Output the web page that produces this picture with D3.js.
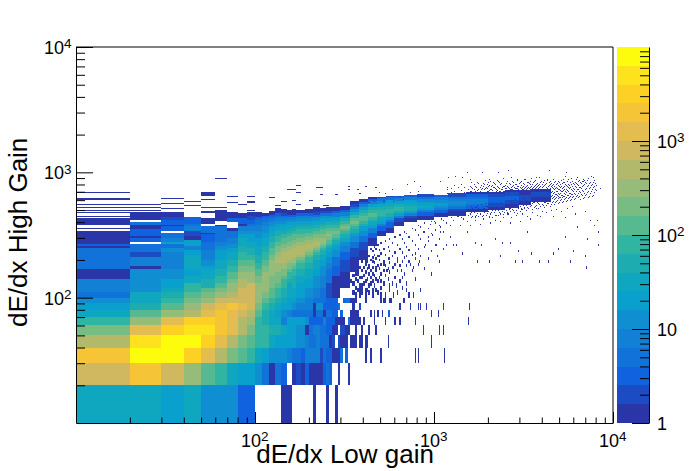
<!DOCTYPE html>
<html lang="en">
<head>
<meta charset="UTF-8">
<title>dE/dx High Gain vs Low gain</title>
<script src="https://cdn.jsdelivr.net/npm/d3@7"></script>
<style>
  html, body { margin: 0; background: #fff; }
  svg { display: block; font-family: "Liberation Sans", Arial, sans-serif; }
  .axis path, .axis line { stroke: #000; }
</style>
</head>
<body>
<div id="chart"></div>
<script>
// colour bands, bottom to top
const palette = ["#2a36a8","#1b4cc4","#1062df","#1172da","#1280d5","#0f8fd2","#09a0ce","#0fa6bf","#1dacb0","#30b5a2",
                 "#57b98f","#78bc84","#97bb78","#b3b96b","#cfb860","#e3bd4f","#f5c537","#fdd024","#fde31e","#fcfc0c"];

// bottom rows: [yLow, yHigh, x, count, x, count, ..., xEnd]
const lowRows = [
  [10,20, 10,32,30,20,40,32,50,13,80,3,100,0,140,1,160,0,210,1,220,0,250,1,260,0,280,1,290],
  [20,30, 10,800,20,2000,30,800,40,316,50,126,60,80,70,32,80,20,100,13,110,5,120,1,130,5,140,3,150,0,160,1,170,2,180,1,190,3,200,1,240,3,250,5,260,3,270,0,290,1,300,0,330,1,340],
  [30,40, 10,2000,20,8000,40,3200,50,1260,60,500,70,200,80,126,90,80,100,32,110,20,120,13,150,8,160,5,180,3,190,8,230,2,240,5,250,3,270,1,300,5,310,0,320,3,330,0,410,1,420,0,440,1,450,0,500,1,510,0,780,1,790,0,810,1,820,0,1140,1,1150],
  [40,50, 10,500,20,5000,30,8000,50,3200,60,1260,70,500,80,200,90,126,100,80,120,32,130,20,170,13,190,8,200,5,220,8,230,5,260,1,270,2,280,0,290,2,300,1,330,0,340,1,370,0,380,1,400,0,410,1,430,0,550,1,560,0,960,1,970],
  [50,60, 10,200,20,1260,30,3200,40,5000,60,2000,70,1260,80,500,90,200,100,80,120,50,140,32,150,20,170,13,190,1,200,5,210,8,230,5,250,3,270,1,290,0,300,2,320,1,340,0,360,1,370,0,390,1,400,0,430,1,440,0,470,1,480,0,870,1,880,0,1070,1,1080,0,1120,1,1130],
  [60,70, 10,80,20,316,30,1260,40,3200,60,2000,70,1260,80,500,90,316,100,80,110,50,120,32,140,8,150,20,190,13,200,3,240,8,250,3,280,1,320,0,330,5,340,1,390,0,400,1,410,0,460,1,470,0,530,1,540,0,600,1,610,0,640,1,650,0,780,1,790,0,1540,1,1550],
  [70,80, 10,32,20,126,30,316,40,500,50,1260,60,2000,70,1260,80,800,90,500,100,126,110,50,120,32,130,20,140,13,150,8,160,5,210,1,220,5,240,1,250,5,270,3,290,0,300,3,310,0,340,1,380,0,440,1,450,0,460,1,470,0,480,1,490,0,510,1,520,0,550,3,570,0,960,1,970,0,1050,1,1060],
  [80,90, 10,20,20,50,30,126,40,316,50,800,60,1260,70,2000,80,1260,90,800,100,200,110,80,120,50,130,32,140,20,160,13,170,8,210,1,220,13,240,3,290,5,300,0,350,1,360,0,380,2,390,0,640,1,650,0,730,1,740,0,810,1,820,0,830,1,840,0,900,1,910,0,1120,1,1130,0,1570,1,1580],
  [90,100, 10,13,20,32,30,80,40,200,50,316,60,800,100,316,110,126,120,80,130,50,140,32,150,20,170,13,190,8,210,5,250,3,280,3,290,0,310,3,320,5,340,1,370,0,410,1,420,0,500,1,510,0,520,1,540,0,560,1,580,0,670,1,690]
];

// everything above y = 100: [xLow, xHigh, y, count, y, count, ..., yEnd]
const ridgeCols = [
  [10,20, 100,5,110,8,140,1,170,5,250,1,260,3,270,1,300,1,340,0,350,1,360,0,380,1,430,0,440,1,450,0,470,1,480,0,490,1,500,0,520,1,530,0,550,1,560,0,600,1,620,0,690,1,700],
  [20,30, 100,32,110,13,170,1,180,8,210,2,230,5,270,0,280,3,300,1,310,3,350,1,380,5,400,0,420,1,480,0,490,1,500,0,520,1,530,0,550,1,560],
  [30,40, 100,50,110,32,120,20,140,13,170,8,230,13,250,5,270,20,280,8,300,5,330,0,340,3,370,1,380,3,420,2,440,1,480,0,510,1,520,0,560,1,570,0,610,1,620],
  [40,50, 100,126,110,80,130,32,150,20,170,32,220,20,240,8,260,20,290,1,310,2,340,8,370,5,390,3,440,0,540,1,550,0,580,1,590],
  [50,60, 100,200,110,126,120,50,140,32,170,20,180,13,200,8,240,5,280,3,320,1,330,5,370,0,390,1,410,1,430,0,470,1,490,0,520,1,530,0,600,1,610,0,650,1,700],
  [60,70, 100,316,110,200,120,126,130,80,150,50,170,32,200,20,240,13,260,8,280,5,320,5,370,1,380,0,410,1,440,1,500,0,520,1,530,0,890,1,900],
  [70,80, 100,500,110,316,130,200,140,126,160,80,180,50,200,32,230,20,250,13,270,8,300,5,340,1,360,0,400,3,430,1,480,0,570,1,580,0,640,1,650],
  [80,90, 100,800,120,500,140,316,160,200,180,126,200,80,230,50,260,32,300,20,320,13,340,8,370,1,390,3,430,1,470,0,550,1,560],
  [90,100, 100,800,130,316,160,200,180,126,200,80,220,50,250,32,280,20,320,13,340,8,370,5,390,3,420,2,450,1,480,0,490,1,500,0,570,1,580,0,640,1,650],
  [100,110, 100,316,130,200,150,126,170,80,190,50,220,32,260,20,300,13,340,8,380,5,420,3,440,1,480],
  [110,120, 100,200,110,316,160,200,180,126,200,80,230,50,260,32,300,20,330,13,370,8,400,5,430,3,450,1,470],
  [120,130, 100,126,120,200,150,316,200,200,220,126,250,80,280,50,310,32,340,20,370,13,400,8,420,5,440,3,460,1,490],
  [130,140, 100,80,120,126,130,200,160,316,190,500,210,316,230,200,260,126,280,80,310,50,340,32,360,20,390,13,410,8,430,5,450,3,470,1,520],
  [140,150, 100,50,120,80,140,126,150,200,170,316,190,500,230,316,250,200,270,126,300,80,320,50,340,32,370,20,390,13,410,8,430,5,450,2,470,1,510],
  [150,160, 100,32,130,50,140,80,160,126,170,200,190,316,200,500,240,316,260,200,280,126,310,80,330,50,350,32,380,20,400,13,420,8,440,3,460,1,500],
  [160,170, 100,32,120,50,150,80,170,126,180,200,190,316,210,500,250,316,270,200,290,126,320,80,340,50,360,32,380,20,400,13,420,8,440,3,460,1,510],
  [170,190, 100,20,130,32,150,50,170,80,190,126,200,200,210,316,220,500,260,316,280,200,300,126,320,80,350,50,370,32,390,20,410,13,430,8,450,3,470,1,500],
  [190,210, 100,13,120,20,140,32,170,50,190,80,210,126,220,200,230,316,240,500,270,316,290,200,310,126,330,80,350,50,370,32,390,20,410,13,430,8,450,3,470,1,510],
  [210,230, 100,8,120,13,150,20,170,32,200,50,220,80,230,126,240,200,250,316,260,500,280,316,300,200,320,126,340,80,360,50,380,32,400,20,420,13,440,5,460,2,480,1,520],
  [230,250, 100,5,120,8,150,13,180,20,200,32,220,50,240,80,250,126,260,200,270,316,300,200,320,126,350,80,370,50,390,32,410,20,430,13,450,5,470,2,490,1,520],
  [250,270, 100,2,130,5,170,8,190,13,210,20,230,32,250,50,260,80,270,126,290,200,310,316,320,200,340,126,360,80,380,50,400,32,410,20,430,13,450,5,470,2,490,1,530],
  [270,300, 100,1,150,3,180,5,210,13,240,20,260,32,270,50,290,80,300,126,320,200,340,126,360,80,380,50,400,32,420,20,440,8,470,3,490,1,530],
  [300,340, 120,1,160,2,200,3,230,8,260,13,280,32,300,50,320,80,340,126,350,200,370,126,390,80,410,50,430,20,450,8,480,3,500,1,540],
  [340,380, 160,1,210,2,250,5,280,13,310,20,330,50,350,80,370,126,390,200,410,126,430,80,460,32,480,13,510,5,530,2,560,1,590],
  [380,430, 200,1,240,2,280,5,310,13,340,20,370,50,390,80,410,126,450,80,470,50,500,20,530,8,560,3,580,1,610],
  [430,480, 260,1,300,3,330,8,360,20,380,32,400,50,420,80,440,126,470,80,500,50,530,20,560,8,590,3,610,1,630],
  [480,540, 310,1,340,3,370,8,390,20,410,32,430,50,450,80,500,50,530,32,560,13,590,5,620,2,640],
  [540,600, 330,1,360,3,400,8,420,20,440,50,470,80,510,50,540,32,570,20,600,5,630,2,650],
  [600,680, 370,1,400,2,430,8,450,20,470,50,490,80,530,50,560,20,590,8,620,3,650],
  [680,800, 400,1,430,2,450,8,470,20,490,50,540,32,570,20,600,8,630,3,660],
  [800,1000, 420,1,450,3,480,8,500,20,520,32,550,20,580,13,610,5,640,2,670],
  [1000,1200, 440,1,470,3,500,8,520,13,540,20,570,13,600,8,630,3,660],
  [1200,1500, 450,1,490,2,510,5,530,8,550,13,590,8,610,5,640,2,680],
  [1500,2000, 480,1,510,3,540,5,560,8,610,5,640,3,670,1,700],
  [2000,2500, 500,1,530,2,570,3,640,2,670,1,700],
  [2500,3000, 520,1,560,2,600,3,650,2,700,1,720],
  [3000,3500, 550,1,590,2,660,1,720],
  [3500,4500, 580,1,630,2,700,1,740]
];

// isolated single-count cells around the ridge: x bin, y bin
const singleX = [410,430,450,470,490,520,540,560,590,620,650,700,730,760,780,820,660,610,560,500,450,410,390,450,500,590,700,760,360,340,380,
  870,890,920,980,1030,1040,1080,1170,1230,1270,1320,1440,1530,1690,1730,1830,2030,2190,2340,2400,2650,2830,2950,3100,3300,3480,3850,4320,4610,4920,5380,5740,5960,6280,6950,7060,7150,7800,8250,8250,
  950,1080,1230,1400,1590,1810,2050,2340,2650,3020,3430,3900,4610,5380,6120,6950,7420,8100,
  1000,1100,1160,1270,1340,1450,1520,1610,1700,1760,1880,1950,2100,2200,2280,2420,2560,2700,2880,3120,3300,3550,3750,4000,4250,4500,4800,5100,5500,5900,1050,1200,1480,1650,2000,2370,2780,3200,3700,
  1530,1860,2280,2600,4400,5450,7700,3700,1430,1310,1190,1080,1590,2050,2900,3430,4270,5240,6800,8440,
  170,150,160,220,230,170,230,90,90,120,130,140,160,170,200,210,220,240,250,280,330,330,370,380,410,470,490,530,580,640,710,770,810,830,730,670,590,520,460,430,370,340,310];
const singleY = [190,170,190,170,210,180,160,200,170,190,160,210,180,170,220,190,140,120,120,130,130,110,120,110,100,100,110,100,150,130,110,
  330,260,300,310,260,210,330,260,300,260,260,220,330,270,190,260,190,290,210,270,270,190,230,190,330,220,190,190,220,240,300,190,230,360,210,170,290,370,260,330,
  380,360,370,370,370,380,390,400,390,400,420,440,440,430,460,480,410,410,
  400,420,390,410,440,420,400,430,410,440,420,450,430,410,450,430,460,430,450,460,440,470,450,480,470,490,500,480,510,530,460,450,470,480,480,500,490,510,510,
  990,990,990,1030,1040,990,900,900,900,930,900,840,870,840,870,840,870,880,870,740,
  780,720,720,750,750,690,660,640,580,620,540,580,590,550,590,520,520,540,540,660,770,730,720,670,770,760,690,670,720,640,790,840,700,770,690,600,580,580,580,570,540,550,520];

// speckle columns: [x bin, y bin, y bin, ...], all single counts
const speckleCols = [
  [350,105,125,145,165],[360,100,115,135,160,190],[370,110,130,150,180],[380,100,120,140,170,200],[390,105,115,140,160,190,220],
  [400,125,145,170,210],[410,100,130,155,180,200],[420,110,135,165,190,230],[430,105,120,150,175,210],[440,125,140,160,195,240],
  [450,100,150,170,205,230],[460,120,145,185,215,250],[470,110,135,160,200,240],[480,105,130,175,210,260],[490,140,165,195,235],
  [500,115,150,180,220,270],[520,125,160,190,240],[530,100,145,175,215,280],[550,135,165,200,250],[560,110,155,185,230,290],
  [580,125,170,210,270],[600,140,180,225,300],[620,105,160,200,260],[640,130,175,240,310],[660,115,190,225,290],[680,150,205,270,330],
  [700,125,175,250,320],[720,100,190,235,300],[750,160,215,280,350],[780,135,200,260,340],[810,180,240,310,370],[840,110,210,290,360],
  [880,165,250,330,390],[920,200,280,350],[960,150,230,320,400],[1010,260,340,390],[1060,190,290,370],[1120,240,330,410],
  [1180,440,470,680,720,760],[1240,430,480,690,740],[1300,450,490,670,700,780],[1360,440,470,680,750],[1420,430,490,660,710,800],[1480,460,480,690,760],[1540,450,500,670,730],
  [1590,460,490,700,770],[1630,440,510,680,740],[1670,470,500,720,790],[1720,450,520,690,750],[1760,480,510,730,810],[1810,460,500,700,760],
  [1850,440,490,690,740],[1900,470,510,720,800],[1950,450,530,680,750],[2000,480,510,700,770,830],[2050,460,500,690,730],[2100,490,520,710,780],
  [2160,470,510,690,750,810],[2210,450,530,700,730],[2270,490,520,680,760,840],[2330,460,500,700,790],[2390,480,530,720,750],[2450,470,510,700,770],
  [2520,490,530,710,740,810],[2580,460,520,690,760],[2650,480,510,730,790],[2720,500,530,720,770,850],[2790,470,520,700,750],[2860,490,530,710,740,800],
  [2940,510,540,730,770],[3020,480,530,710,760,830],[3100,500,550,720,750],[3180,520,560,740,790,880],[3260,490,540,730,770],[3340,510,550,710,750,820],
  [3430,530,570,720,760,800],[3520,500,560,740,790],[3610,520,570,710,770,850],[3710,540,590,750,800],[3800,510,560,740,780],[3900,530,580,730,770,830],
  [4000,550,590,750,790],[4110,520,570,730,780,860],[4220,540,600,760,810],[4330,560,590,720,770],[4440,530,580,740,790,840],[4550,570,610,650,700,750,780],
  [4670,550,600,640,690,720,770,820],[4790,580,620,660,700,760,800],[4920,560,610,640,680,730,780,850],[5050,590,630,670,710,750,790],[5180,570,620,650,700,740,810],[5310,600,640,680,720,770,830],
  [5450,580,630,690,730,780],[5590,610,650,700,750,800,870],[5740,590,640,680,760,820],[5890,620,660,710,770,840],[6040,600,680,730,790],[6200,640,700,750,810,880],
  [6360,620,670,720,780,850],[6530,600,690,760,820],[6700,650,710,770,840],[6870,630,680,800,860],[7050,660,740,810],[7230,620,700,780,890],
  [7420,670,750,830],[7610,640,720,800],[7810,690,770,860],[8010,710,780],
  // second pass over the cloud, in between the columns above
  [1610,475,525,705,755,825],[1690,435,515,695,775],[1745,465,535,715,835],[1830,485,545,725,785],[1875,445,505,685,765,815],[1925,495,555,735,865],
  [1975,465,525,695,745,795],[2025,435,505,715,785,875],[2075,475,545,725,765],[2130,515,565,685,755,825],[2185,445,495,735,795],[2240,505,555,715,775,855],
  [2300,475,535,695,745,835],[2360,515,575,725,805],[2420,455,545,705,765,885],[2485,525,585,735,785],[2550,475,555,715,775,845],[2615,505,595,745,815],
  [2685,535,575,725,755,905],[2755,495,565,705,785,825],[2825,525,605,745,795],[2900,465,575,735,775,865],[2980,545,615,715,805],[3060,505,585,745,785,845],
  [3140,535,605,725,765,815],[3220,565,625,755,875],[3300,515,595,735,785,835],[3385,555,635,745,815],[3475,535,615,725,775,895],[3565,575,645,755,825],
  [3660,525,605,735,785,865],[3755,565,625,765,815],[3850,545,635,755,795,915],[3950,585,655,725,845],[4055,535,615,695,775,825],[4165,575,645,725,795],
  [4275,555,625,675,745,855],[4385,595,655,705,785,825],[4495,545,635,685,765,815],[4610,585,625,675,735,795,875],[4730,565,615,665,745,845],[4855,595,645,695,745,815],
  [4985,575,625,665,725,775,835],[5115,605,655,695,765,855],[5245,585,635,715,755,825],[5380,615,665,705,795,925],[5520,595,655,715,765,845],[5665,625,675,735,785],
  [5815,605,665,725,795,885],[5965,635,695,745,815],[6120,615,665,765,835],[6280,655,725,795,905],[6445,635,705,755,865],[6615,665,735,805],[6785,615,695,785,845],
  [6960,645,725,835],[7140,685,765,855],[7325,635,745,815],[7515,705,785,925],[7710,655,755,835],[7910,725,815]
];

const zTicks = [1, 10, 100, 1000];
const logTicks = [20,30,40,50,60,70,80,90,100,200,300,400,500,600,700,800,900,1000,2000,3000,4000,5000,6000,7000,8000,9000,10000];
const decadeTicks = [100, 1000, 10000];

const width = 698, height = 471;
const svg = d3.select("#chart").append("svg").attr("width", width).attr("height", height);

const x = d3.scaleLog().domain([10, 10000]).range([76, 613]);
const y = d3.scaleLog().domain([10, 10000]).range([423, 47]);
const z = d3.scaleLog().domain([1, 10000]).range([423, 47]);
const color = d3.scaleQuantize().domain([0, 4]).range(palette);

// flatten the run lists into cells
const cells = [];
lowRows.forEach(r => {
  for (let i = 2; i < r.length - 1; i += 2) {
    if (r[i + 1] > 0) cells.push({x0: r[i], x1: r[i + 2], y0: r[0], y1: r[1], c: r[i + 1]});
  }
});
ridgeCols.forEach(r => {
  for (let i = 2; i < r.length - 1; i += 2) {
    if (r[i + 1] > 0) cells.push({x0: r[0], x1: r[1], y0: r[i], y1: r[i + 2], c: r[i + 1]});
  }
});
singleX.forEach((d, i) => cells.push({x0: d, x1: d + 10, y0: singleY[i], y1: singleY[i] + 10, c: 1}));
speckleCols.forEach(r => r.slice(1).forEach(v => cells.push({x0: r[0], x1: r[0] + 10, y0: v, y1: v + 10, c: 1})));

svg.append("g").attr("shape-rendering", "crispEdges")
  .selectAll("rect").data(cells).join("rect")
  .attr("x", d => x(d.x0))
  .attr("y", d => y(d.y1))
  .attr("width", d => Math.max(1, x(d.x1) - x(d.x0)))
  .attr("height", d => Math.max(1, y(d.y0) - y(d.y1)))
  .attr("fill", d => color(Math.log10(d.c)));

// palette bar
const bandEdges = d3.range(palette.length + 1).map(i => Math.pow(10, i * 0.2));
svg.append("g").attr("shape-rendering", "crispEdges")
  .selectAll("rect").data(palette).join("rect")
  .attr("x", 617).attr("width", 32)
  .attr("y", (d, i) => z(bandEdges[i + 1]))
  .attr("height", (d, i) => z(bandEdges[i]) - z(bandEdges[i + 1]))
  .attr("fill", d => d);

function pow10Label(sel, v) {
  const e = Math.round(Math.log10(v));
  sel.text(null);
  if (e === 0) { sel.append("tspan").text("1"); return; }
  sel.append("tspan").text("10");
  if (e > 1) sel.append("tspan").attr("dy", "-0.42em").attr("font-size", "0.75em").text(e);
}

// minor + major ticks, drawn inward like the original frame
const tickSize = (v, big, small) => (Number.isInteger(Math.log10(v)) ? big : small);

const gx = svg.append("g").attr("class", "axis").attr("transform", "translate(0,423)");
gx.call(d3.axisBottom(x).tickValues(logTicks).tickSizeOuter(0).tickFormat(""));
gx.selectAll(".tick line").attr("y2", d => -tickSize(d, 11, 5.5));

const gy = svg.append("g").attr("class", "axis").attr("transform", "translate(76,0)");
gy.call(d3.axisLeft(y).tickValues(logTicks).tickSizeOuter(0).tickFormat(""));
gy.selectAll(".tick line").attr("x2", d => tickSize(d, 17, 9));

// frame top and right
svg.append("path").attr("d", "M76,47H613V423").attr("fill", "none").attr("stroke", "#000");

const zMinor = zTicks.flatMap(d => d3.range(1, 10).map(m => d * m)).filter(d => d > 1);
const gz = svg.append("g").attr("class", "axis").attr("transform", "translate(649,0)");
gz.call(d3.axisRight(z).tickValues([1].concat(zMinor)).tickSizeOuter(0).tickFormat(""));
gz.selectAll(".tick line").attr("x2", d => -tickSize(d, 17, 9));

// tick labels
svg.append("g").selectAll("text").data(decadeTicks).join("text")
  .attr("x", d => x(d) - 14).attr("y", 447).attr("font-size", 18)
  .each(function(d) { pow10Label(d3.select(this), d); });
svg.append("g").selectAll("text").data(decadeTicks).join("text")
  .attr("x", 44).attr("y", d => y(d) + 7).attr("font-size", 18)
  .each(function(d) { pow10Label(d3.select(this), d); });
svg.append("g").selectAll("text").data(zTicks).join("text")
  .attr("x", 657).attr("y", d => z(d) + 7).attr("font-size", 18)
  .each(function(d) { pow10Label(d3.select(this), d); });

// axis titles
svg.append("text").attr("x", 434).attr("y", 463).attr("text-anchor", "end")
  .attr("font-size", 26).text("dE/dx Low gain");
svg.append("text").attr("transform", "translate(27,327) rotate(-90)")
  .attr("font-size", 26).text("dE/dx High Gain");
</script>
</body>
</html>
